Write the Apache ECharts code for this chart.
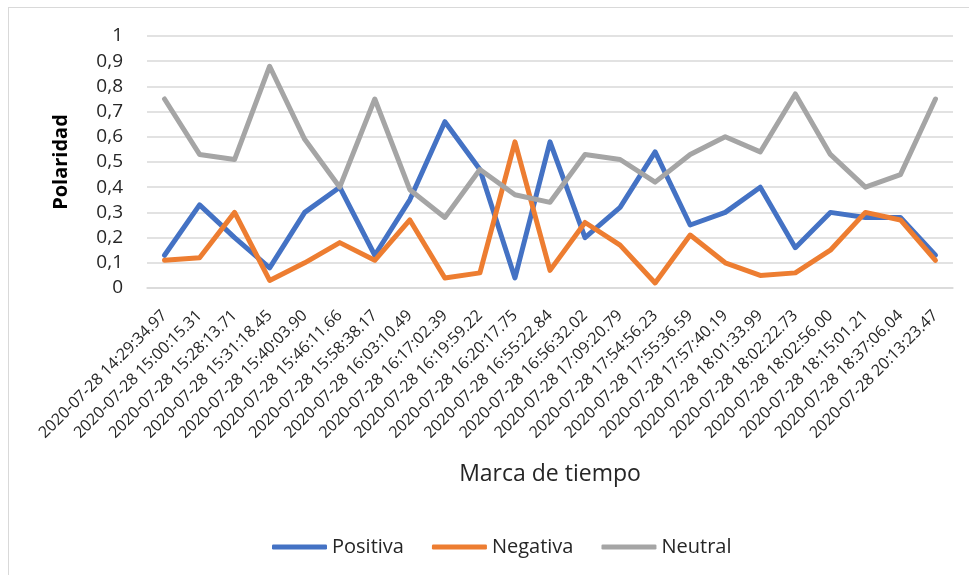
<!DOCTYPE html>
<html>
<head>
<meta charset="utf-8">
<script src="https://cdn.jsdelivr.net/npm/echarts@6/dist/echarts.min.js"></script>
<style>
  html, body { margin: 0; padding: 0; background: #fff; }
  #frame {
    position: absolute; left: 8px; top: 7px; width: 1000px; height: 600px;
    border-top: 1px solid #d9d9d9; border-left: 1px solid #d9d9d9;
  }
  #chart { position: absolute; left: 0; top: 0; width: 969px; height: 575px; }
</style>
</head>
<body>
<div id="frame"></div>
<div id="chart"></div>
<script>
const timestamps = [
  '2020-07-28 14:29:34.97', '2020-07-28 15:00:15.31', '2020-07-28 15:28:13.71',
  '2020-07-28 15:31:18.45', '2020-07-28 15:40:03.90', '2020-07-28 15:46:11.66',
  '2020-07-28 15:58:38.17', '2020-07-28 16:03:10.49', '2020-07-28 16:17:02.39',
  '2020-07-28 16:19:59.22', '2020-07-28 16:20:17.75', '2020-07-28 16:55:22.84',
  '2020-07-28 16:56:32.02', '2020-07-28 17:09:20.79', '2020-07-28 17:54:56.23',
  '2020-07-28 17:55:36.59', '2020-07-28 17:57:40.19', '2020-07-28 18:01:33.99',
  '2020-07-28 18:02:22.73', '2020-07-28 18:02:56.00', '2020-07-28 18:15:01.21',
  '2020-07-28 18:37:06.04', '2020-07-28 20:13:23.47'
];
const positiva = [0.13, 0.33, 0.20, 0.08, 0.30, 0.40, 0.13, 0.35, 0.66, 0.47, 0.04, 0.58,
  0.20, 0.32, 0.54, 0.25, 0.30, 0.40, 0.16, 0.30, 0.28, 0.28, 0.13];
const negativa = [0.11, 0.12, 0.30, 0.03, 0.10, 0.18, 0.11, 0.27, 0.04, 0.06, 0.58, 0.07,
  0.26, 0.17, 0.02, 0.21, 0.10, 0.05, 0.06, 0.15, 0.30, 0.27, 0.11];
const neutral = [0.75, 0.53, 0.51, 0.88, 0.59, 0.40, 0.75, 0.39, 0.28, 0.47, 0.37, 0.34,
  0.53, 0.51, 0.42, 0.53, 0.60, 0.54, 0.77, 0.53, 0.40, 0.45, 0.75];

const font = '"Open Sans", "Liberation Sans", sans-serif';
const colors = ['#4472C4', '#ED7D31', '#A5A5A5'];

const chart = echarts.init(document.getElementById('chart'));

function line(name, data, color) {
  return {
    name: name,
    type: 'line',
    data: data,
    symbol: 'none',
    showSymbol: false,
    lineStyle: { color: color, width: 5, cap: 'round', join: 'round' },
    itemStyle: { color: color }
  };
}

chart.setOption({
  animation: false,
  color: colors,
  textStyle: { fontFamily: font },
  grid: { left: 147, right: 16, top: 36, bottom: 287, containLabel: false, outerBoundsMode: 'none' },
  xAxis: {
    type: 'category',
    data: timestamps,
    boundaryGap: true,
    axisLine: { lineStyle: { color: '#d9d9d9', width: 1.5 } },
    axisTick: { show: false },
    axisLabel: { rotate: 45, interval: 0, fontSize: 16, color: '#262626', margin: 25, fontFamily: font },
    name: 'Marca de tiempo',
    nameLocation: 'middle',
    nameGap: 175,
    nameTextStyle: { fontSize: 23, color: '#262626', fontFamily: font }
  },
  yAxis: {
    type: 'value',
    min: 0,
    max: 1,
    interval: 0.1,
    axisLine: { show: false },
    axisTick: { show: false },
    splitLine: { lineStyle: { color: '#d9d9d9', width: 1.5 } },
    axisLabel: {
      fontSize: 19, color: '#262626', margin: 24, fontFamily: font,
      formatter: v => String(Math.round(v * 10) / 10).replace('.', ',')
    },
    name: 'Polaridad',
    nameLocation: 'middle',
    nameRotate: 90,
    nameGap: 76,
    nameTextStyle: { fontSize: 20, fontWeight: 'bold', color: '#000', fontFamily: font }
  },
  legend: {
    left: 267,
    top: 532,
    icon: 'roundRect',
    itemWidth: 55,
    itemHeight: 5,
    itemGap: 28,
    textStyle: { fontSize: 20, color: '#262626', fontFamily: font },
    data: ['Positiva', 'Negativa', 'Neutral']
  },
  series: [
    line('Positiva', positiva, colors[0]),
    line('Negativa', negativa, colors[1]),
    line('Neutral', neutral, colors[2])
  ]
});
</script>
</body>
</html>
